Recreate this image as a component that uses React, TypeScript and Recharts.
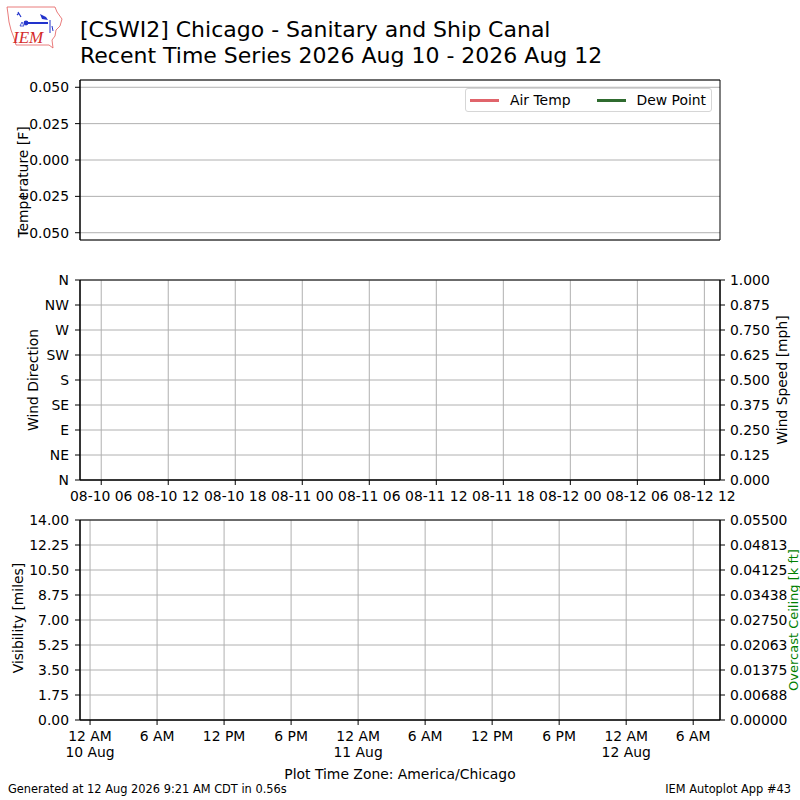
import React from "react";
import {
  LineChart,
  Line,
  XAxis,
  YAxis,
  CartesianGrid,
  Legend,
  ReferenceArea,
} from "recharts";

// time axis: hours since 12 AM 10 Aug 2026 (America/Chicago)
const timeDomain: [number, number] = [-0.9, 56.4];
const localTicks = [0, 6, 12, 18, 24, 30, 36, 42, 48, 54];
const localTickLabels = [
  ["12 AM", "10 Aug"],
  ["6 AM"],
  ["12 PM"],
  ["6 PM"],
  ["12 AM", "11 Aug"],
  ["6 AM"],
  ["12 PM"],
  ["6 PM"],
  ["12 AM", "12 Aug"],
  ["6 AM"],
];
// same instants, labelled in UTC on the wind panel
const utcTicks = [1, 7, 13, 19, 25, 31, 37, 43, 49, 55];
const utcTickLabels = [
  "08-10 06",
  "08-10 12",
  "08-10 18",
  "08-11 00",
  "08-11 06",
  "08-11 12",
  "08-11 18",
  "08-12 00",
  "08-12 06",
  "08-12 12",
];

const tempDomain: [number, number] = [-0.055, 0.055];
const tempTicks = [-0.05, -0.025, 0, 0.025, 0.05];
const tempTickLabels = ["\u22120.050", "\u22120.025", "0.000", "0.025", "0.050"];

const dirTicks = [0, 45, 90, 135, 180, 225, 270, 315, 360];
const dirTickLabels = ["N", "NE", "E", "SE", "S", "SW", "W", "NW", "N"];
const speedTicks = [0, 0.125, 0.25, 0.375, 0.5, 0.625, 0.75, 0.875, 1];
const speedTickLabels = ["0.000", "0.125", "0.250", "0.375", "0.500", "0.625", "0.750", "0.875", "1.000"];

const visTicks = [0, 1.75, 3.5, 5.25, 7, 8.75, 10.5, 12.25, 14];
const visTickLabels = ["0.00", "1.75", "3.50", "5.25", "7.00", "8.75", "10.50", "12.25", "14.00"];
const ceilTicks = [0, 0.006875, 0.01375, 0.020625, 0.0275, 0.034375, 0.04125, 0.048125, 0.055];
const ceilTickLabels = ["0.00000", "0.00688", "0.01375", "0.02063", "0.02750", "0.03438", "0.04125", "0.04813", "0.05500"];

// no observations were reported in the period
const airTemp: (number | null)[] = [];
const dewPoint: (number | null)[] = [];
const windDir: (number | null)[] = [];
const windSpeed: (number | null)[] = [];
const visibility: (number | null)[] = [];
const ceiling: (number | null)[] = [];

const data = localTicks.map((t, i) => ({
  t,
  airTemp: airTemp[i] ?? null,
  dewPoint: dewPoint[i] ?? null,
  windDir: windDir[i] ?? null,
  windSpeed: windSpeed[i] ?? null,
  visibility: visibility[i] ?? null,
  ceiling: ceiling[i] ?? null,
}));

const FS = 13.9;
const tickFont = { fontSize: FS, fill: "#000" };
const gridColor = "#b0b0b0";

function LocalTick(props: any) {
  const { x, y, index } = props;
  const lines = localTickLabels[index] || [];
  return (
    <text x={x} y={y} textAnchor="middle" fontSize={FS} fill="#000">
      {lines.map((l, i) => (
        <tspan key={i} x={x} dy={i === 0 ? "0.71em" : "1.17em"}>
          {l}
        </tspan>
      ))}
    </text>
  );
}

function TempLegend(props: any) {
  const { payload } = props;
  return (
    <div
      style={{
        display: "flex",
        alignItems: "center",
        border: "1px solid #d6d6d6",
        borderRadius: 3,
        background: "#fff",
        height: 22,
        padding: "0 5px 0 4px",
        fontSize: FS,
        color: "#000",
      }}
    >
      {(payload || []).map((p: any, i: number) => (
        <div key={i} style={{ display: "flex", alignItems: "center", marginLeft: i === 0 ? 0 : 26 }}>
          <span style={{ display: "inline-block", width: 29, height: 3, background: p.color, marginRight: 11 }} />
          <span>{p.value}</span>
        </div>
      ))}
    </div>
  );
}

export default function App() {
  return (
    <div
      style={{
        position: "absolute",
        left: 0,
        top: 0,
        width: 800,
        height: 800,
        background: "#fff",
        fontFamily: "DejaVu Sans",
        overflow: "hidden",
      }}
    >
      <div style={{ position: "absolute", left: 0, top: 0 }}>
        <LineChart width={800} height={250} data={data} margin={{ top: 80, right: 80, bottom: 10, left: 0 }}>
          <CartesianGrid vertical={false} stroke={gridColor} strokeWidth={1} />
          <XAxis dataKey="t" type="number" domain={timeDomain} allowDataOverflow hide />
          <YAxis
            type="number"
            domain={tempDomain}
            ticks={tempTicks}
            interval={0}
            allowDataOverflow
            width={80}
            tickSize={5}
            tickMargin={6}
            tick={tickFont}
            stroke="#000"
            tickFormatter={(v: number, i: number) => tempTickLabels[i]}
          />
          <ReferenceArea
            x1={timeDomain[0]}
            x2={timeDomain[1]}
            y1={tempDomain[0]}
            y2={tempDomain[1]}
            fill="none"
            stroke="#000"
            strokeWidth={1}
            fillOpacity={0}
          />
          <Line dataKey="airTemp" name="Air Temp" stroke="#e0646b" strokeWidth={2} dot={false} isAnimationActive={false} />
          <Line dataKey="dewPoint" name="Dew Point" stroke="#2f6b2f" strokeWidth={2} dot={false} isAnimationActive={false} />
          <Legend
            layout="vertical"
            align="center"
            verticalAlign="middle"
            content={<TempLegend />}
            wrapperStyle={{ left: 465, top: 88, width: "auto", height: "auto" }}
          />
        </LineChart>
      </div>

      <div style={{ position: "absolute", left: 0, top: 270 }}>
        <LineChart width={800} height={240} data={data} margin={{ top: 10, right: 0, bottom: 0, left: 0 }}>
          <CartesianGrid stroke={gridColor} strokeWidth={1} />
          <XAxis
            dataKey="t"
            type="number"
            domain={timeDomain}
            ticks={utcTicks}
            interval={0}
            allowDataOverflow
            height={30}
            tickSize={5}
            tickMargin={6}
            tick={tickFont}
            stroke="#000"
            tickFormatter={(v: number, i: number) => utcTickLabels[i]}
          />
          <YAxis
            type="number"
            domain={[0, 360]}
            ticks={dirTicks}
            interval={0}
            allowDataOverflow
            width={80}
            tickSize={5}
            tickMargin={6}
            tick={tickFont}
            stroke="#000"
            tickFormatter={(v: number, i: number) => dirTickLabels[i]}
          />
          <YAxis
            yAxisId="right"
            orientation="right"
            type="number"
            domain={[0, 1]}
            ticks={speedTicks}
            interval={0}
            allowDataOverflow
            width={80}
            tickSize={5}
            tickMargin={5}
            tick={{ ...tickFont, textAnchor: "start" }}
            stroke="#000"
            tickFormatter={(v: number, i: number) => speedTickLabels[i]}
          />
          <ReferenceArea
            x1={timeDomain[0]}
            x2={timeDomain[1]}
            y1={0}
            y2={360}
            fill="none"
            stroke="#000"
            strokeWidth={1}
            fillOpacity={0}
          />
          <Line dataKey="windDir" stroke="#1f77b4" dot={false} isAnimationActive={false} />
          <Line dataKey="windSpeed" yAxisId="right" stroke="#ff7f0e" dot={false} isAnimationActive={false} />
        </LineChart>
      </div>

      <div style={{ position: "absolute", left: 0, top: 510 }}>
        <LineChart width={800} height={250} data={data} margin={{ top: 10, right: 0, bottom: 0, left: 0 }}>
          <CartesianGrid stroke={gridColor} strokeWidth={1} />
          <XAxis
            dataKey="t"
            type="number"
            domain={timeDomain}
            ticks={localTicks}
            interval={0}
            allowDataOverflow
            height={40}
            tickSize={5}
            tickMargin={6}
            tick={<LocalTick />}
            stroke="#000"
          />
          <YAxis
            type="number"
            domain={[0, 14]}
            ticks={visTicks}
            interval={0}
            allowDataOverflow
            width={80}
            tickSize={5}
            tickMargin={6}
            tick={tickFont}
            stroke="#000"
            tickFormatter={(v: number, i: number) => visTickLabels[i]}
          />
          <YAxis
            yAxisId="right"
            orientation="right"
            type="number"
            domain={[0, 0.055]}
            ticks={ceilTicks}
            interval={0}
            allowDataOverflow
            width={80}
            tickSize={5}
            tickMargin={5}
            tick={{ ...tickFont, textAnchor: "start" }}
            stroke="#000"
            tickFormatter={(v: number, i: number) => ceilTickLabels[i]}
          />
          <ReferenceArea
            x1={timeDomain[0]}
            x2={timeDomain[1]}
            y1={0}
            y2={14}
            fill="none"
            stroke="#000"
            strokeWidth={1}
            fillOpacity={0}
          />
          <Line dataKey="visibility" stroke="#1f77b4" dot={false} isAnimationActive={false} />
          <Line dataKey="ceiling" yAxisId="right" stroke="#008000" dot={false} isAnimationActive={false} />
        </LineChart>
      </div>

      <svg
        width={800}
        height={800}
        style={{ position: "absolute", left: 0, top: 0, pointerEvents: "none" }}
      >
        {/* IEM logo */}
        <path
          d="M7,7 L55,7 L57,12 L62,19 L60,26 L56,30 L55,36 L52,40 L53,48 L49,45 L16,45 L14,38 L11,30 L9,22 L8,14 Z"
          fill="none"
          stroke="#e35a5a"
          strokeWidth={0.8}
        />
        <line x1={24} y1={23} x2={48} y2={23} stroke="#2233cc" strokeWidth={2} />
        <circle cx={26} cy={23} r={2.4} fill="#2233cc" />
        <path d="M18,12 L21,17 M17,15 L19,13" stroke="#2233cc" strokeWidth={1.2} fill="none" />
        <path d="M20,26 L22,22 L24,26 Z" fill="none" stroke="#2233cc" strokeWidth={0.8} />
        <path d="M40,14 L46,17 L48,20 L42,19 Z" fill="#2233cc" />
        <path d="M50,20 L50,33 M52,26 L53,31" stroke="#2233cc" strokeWidth={1} fill="none" />
        <text x={13} y={43} fontSize={17} fontStyle="italic" fontFamily="Liberation Serif" fill="#d42a2a">
          IEM
        </text>

        <text x={80} y={37} fontSize={22} fill="#000">
          [CSWI2] Chicago - Sanitary and Ship Canal
        </text>
        <text x={80} y={63} fontSize={22} fill="#000">
          Recent Time Series 2026 Aug 10 - 2026 Aug 12
        </text>

        <text x={23} y={182} fontSize={FS} textAnchor="middle" dominantBaseline="central" transform="rotate(-90 23 182)">
          Temperature [F]
        </text>
        <text x={33} y={380} fontSize={FS} textAnchor="middle" dominantBaseline="central" transform="rotate(-90 33 380)">
          Wind Direction
        </text>
        <text x={782} y={380} fontSize={FS} textAnchor="middle" dominantBaseline="central" transform="rotate(-90 782 380)">
          Wind Speed [mph]
        </text>
        <text x={18} y={618} fontSize={FS} textAnchor="middle" dominantBaseline="central" transform="rotate(-90 18 618)">
          Visibility [miles]
        </text>
        <text x={793} y={620} fontSize={13} fill="#008000" textAnchor="middle" dominantBaseline="central" transform="rotate(-90 793 620)">
          Overcast Ceiling [k ft]
        </text>

        <text x={400} y={779} fontSize={FS} textAnchor="middle">
          Plot Time Zone: America/Chicago
        </text>
        <text x={8} y={793} fontSize={11.4}>
          Generated at 12 Aug 2026 9:21 AM CDT in 0.56s
        </text>
        <text x={791} y={793} fontSize={11.4} textAnchor="end">
          IEM Autoplot App #43
        </text>
      </svg>
    </div>
  );
}
